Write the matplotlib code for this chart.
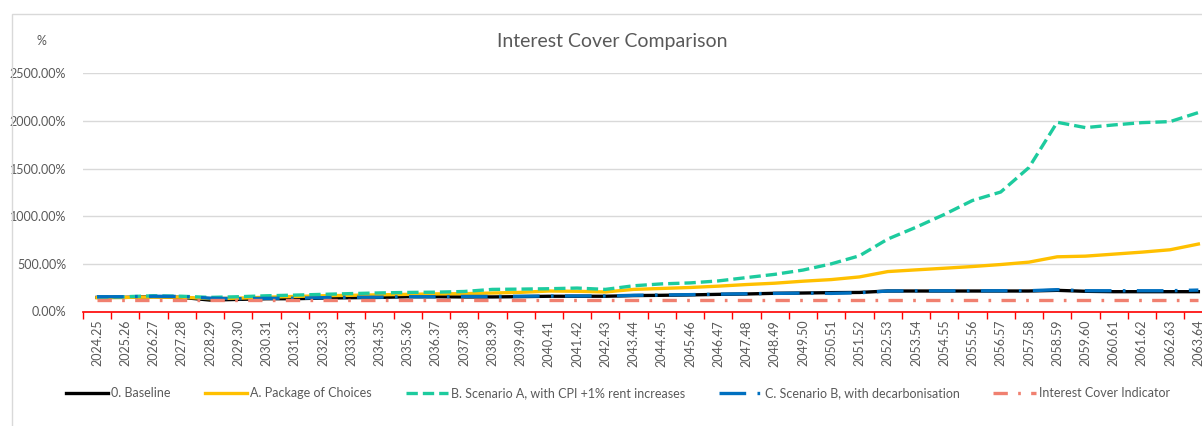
import matplotlib
matplotlib.use("Agg")
import matplotlib.pyplot as plt
from matplotlib.patches import Rectangle
import numpy as np

plt.rcParams['font.family'] = ['Lato', 'DejaVu Sans']

# financial years on the x axis
years = [
    "2024.25", "2025.26", "2026.27", "2027.28", "2028.29", "2029.30", "2030.31", "2031.32",
    "2032.33", "2033.34", "2034.35", "2035.36", "2036.37", "2037.38", "2038.39", "2039.40",
    "2040.41", "2041.42", "2042.43", "2043.44", "2044.45", "2045.46", "2046.47", "2047.48",
    "2048.49", "2049.50", "2050.51", "2051.52", "2052.53", "2053.54", "2054.55", "2055.56",
    "2056.57", "2057.58", "2058.59", "2059.60", "2060.61", "2061.62", "2062.63", "2063.64",
]

# interest cover, in percent
baseline = [148, 148, 155, 148, 120, 127, 134, 134, 141, 145, 148, 155, 155, 153, 153, 156,
            160, 160, 160, 167, 170, 174, 180, 184, 191, 194, 198, 200, 215, 215, 215, 215,
            215, 215, 222, 212, 208, 208, 208, 208]
package = [145, 148, 152, 150, 135, 140, 150, 158, 165, 170, 175, 180, 185, 187, 194, 201,
           215, 212, 205, 232, 242, 252, 266, 283, 297, 318, 335, 363, 419, 437, 454, 472,
           493, 518, 574, 581, 602, 623, 648, 708]
scen_a = [150, 155, 165, 160, 148, 155, 165, 172, 180, 188, 195, 200, 203, 210, 232, 235,
          239, 246, 232, 270, 290, 300, 321, 356, 390, 435, 500, 585, 760, 884, 1018, 1165,
          1254, 1511, 1986, 1930, 1958, 1982, 1993, 2088]
scen_b = [155, 155, 160, 158, 140, 135, 138, 140, 145, 150, 150, 155, 155, 158, 158, 160,
          162, 163, 163, 170, 173, 177, 182, 186, 190, 193, 190, 197, 215, 217, 217, 217,
          218, 218, 229, 218, 218, 218, 218, 225]
indicator = [125, 125, 125, 125, 125, 125, 125, 125, 125, 125, 125, 125, 125, 125, 125, 125,
             125, 125, 125, 125, 125, 125, 125, 125, 125, 125, 125, 125, 125, 125, 125, 125,
             125, 125, 125, 125, 125, 125, 125, 125]

grey = '#595959'
x = np.arange(len(years))

fig = plt.figure(figsize=(12.02, 4.26), dpi=100)

# light chart frame (cropped at right and bottom)
fig.patches.append(Rectangle((12 / 1202, -0.1), 1.2, 1.1 - 14 / 426,
                             transform=fig.transFigure, fill=False,
                             edgecolor='#D9D9D9', lw=1))

ax = fig.add_axes([82.9 / 1202, 1 - 311.5 / 426, 1129.6 / 1202, 238.2 / 426])

lw = 2.4
ax.plot(x, baseline, color='black', lw=lw, label='0. Baseline')
ax.plot(x, package, color='#FFC000', lw=lw, label='A. Package of Choices')
ax.plot(x, scen_a, color='#1DCB9E', lw=lw, dashes=(3.4, 1.5),
        label='B. Scenario A, with CPI +1% rent increases')
ax.plot(x, scen_b, color='#0070C0', lw=lw, dashes=(8, 3.4, 0.8, 3.4),
        label='C. Scenario B, with decarbonisation')
ax.plot(x, indicator, color='#F08070', lw=lw, dashes=(4.3, 3.1, 0.8, 3.1),
        label='Interest Cover Indicator')

ax.set_xlim(-0.5, len(years) - 0.5)
ax.set_ylim(0, 2500)
ax.set_yticks(np.arange(0, 2501, 500))
ax.set_yticklabels([f"{v:.2f}%" for v in np.arange(0, 2501, 500)])
ax.grid(axis='y', color='#D9D9D9', lw=1)
ax.set_axisbelow(True)

# ticks between categories, labels at category centres
ax.set_xticks(np.arange(-0.5, len(years) + 0.5, 1))
ax.set_xticklabels([])
ax.set_xticks(x, minor=True)
ax.set_xticklabels(years, minor=True, rotation=90)
ax.tick_params(axis='x', which='major', color='red', length=5, width=1, direction='out')
ax.tick_params(axis='x', which='minor', length=0, pad=6, labelsize=9, labelcolor=grey)
ax.tick_params(axis='y', length=0, pad=12, labelsize=9, labelcolor=grey)

for s in ['left', 'right', 'top']:
    ax.spines[s].set_visible(False)
ax.spines['bottom'].set_color('red')
ax.spines['bottom'].set_linewidth(1.2)

fig.text(612 / 1202, 1 - 41 / 426, 'Interest Cover Comparison', ha='center', va='center',
         fontsize=14, color=grey)
fig.text(41 / 1202, 1 - 41 / 426, '%', ha='center', va='center', fontsize=9, color=grey)

fig.legend(loc='center', bbox_to_anchor=(618 / 1202, 1 - 393 / 426), ncol=5, frameon=False,
           fontsize=9, labelcolor=grey, handlelength=3.4, handletextpad=0.25,
           columnspacing=2.7)

fig.savefig('out.png', dpi=100)
